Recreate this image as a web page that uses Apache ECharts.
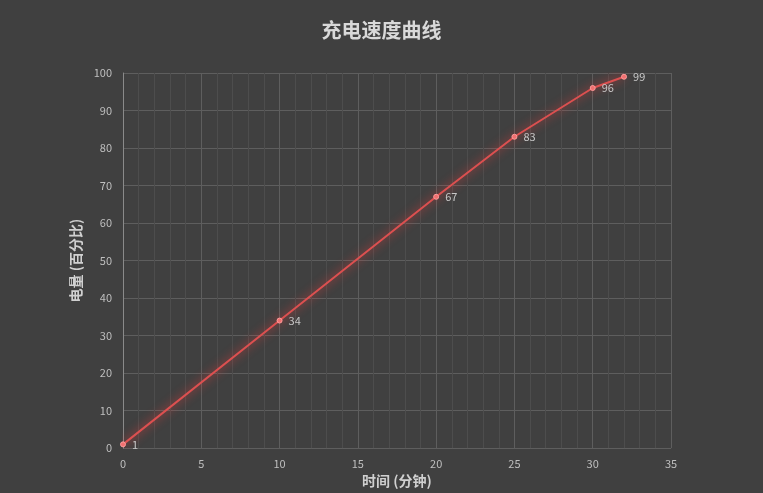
<!DOCTYPE html>
<html><head><meta charset="utf-8">
<script src="https://cdn.jsdelivr.net/npm/echarts@6/dist/echarts.min.js"></script>
<style>html,body{margin:0;padding:0;background:#404040;}#c{width:763px;height:493px;}</style>
</head><body><div id="c"></div>
<script>
const minutes = [0, 10, 20, 25, 30, 32];
const percent = [1, 34, 67, 83, 96, 99];
const chartTitle = '充电速度曲线';
const xName = '时间 (分钟)';
const yName = '电量 (百分比)';

const chart = echarts.init(document.getElementById('c'));
const font = '"Microsoft YaHei","Noto Sans CJK SC",sans-serif';
chart.setOption({
  backgroundColor: '#404040',
  animation: false,
  title: {
    text: chartTitle, left: 'center', top: 15,
    textStyle: { color: '#d9d9d9', fontSize: 20, fontWeight: 'bold', fontFamily: font }
  },
  grid: { left: 123, right: 92, top: 73, bottom: 41 },
  xAxis: {
    type: 'value', min: 0, max: 35, interval: 5,
    name: xName, nameLocation: 'middle', nameGap: 22,
    nameTextStyle: { color: '#d0d0d0', fontSize: 14, fontWeight: 'bold', fontFamily: font },
    axisLine: { show: false },
    axisTick: { show: false },
    axisLabel: { color: '#bfbfbf', fontSize: 11, margin: 10, fontFamily: font },
    splitLine: { show: true, lineStyle: { color: '#5e5e5e', width: 1 } },
    minorTick: { show: false, splitNumber: 5 },
    minorSplitLine: { show: true, lineStyle: { color: '#4d4d4d', width: 1 } }
  },
  yAxis: {
    type: 'value', min: 0, max: 100, interval: 10,
    name: yName, nameLocation: 'middle', nameGap: 38, nameRotate: 90,
    nameTextStyle: { color: '#d0d0d0', fontSize: 14, fontWeight: 'bold', fontFamily: font },
    axisLine: { show: true, lineStyle: { color: '#8a8a8a' } },
    axisTick: { show: false },
    axisLabel: { color: '#bfbfbf', fontSize: 11, margin: 11, fontFamily: font },
    splitLine: { show: true, lineStyle: { color: '#5e5e5e', width: 1 } }
  },
  series: [{
    type: 'line',
    data: minutes.map((m, i) => [m, percent[i]]),
    symbol: 'circle', symbolSize: 5,
    itemStyle: { color: '#f07070', borderColor: '#ff9a9a', borderWidth: 1 },
    lineStyle: { color: '#dc5050', width: 2, shadowColor: 'rgba(255,60,60,0.9)', shadowBlur: 10 },
    label: { show: true, position: 'right', distance: 6, color: '#c8c8c8', fontSize: 11, fontFamily: font }
  }]
});
</script></body></html>
